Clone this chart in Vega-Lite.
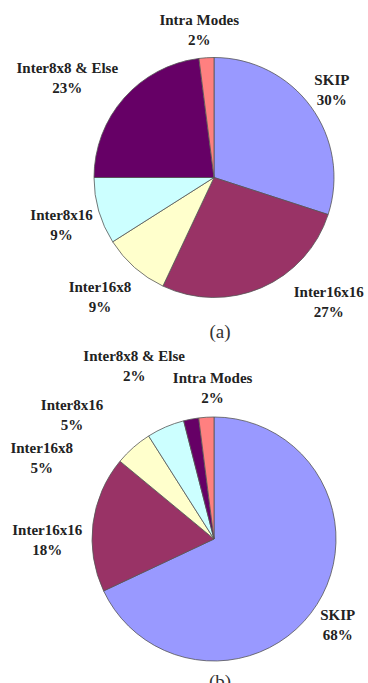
{
  "$schema": "https://vega.github.io/schema/vega-lite/v6.json",
  "autosize": {"type": "pad"},
  "padding": {"left": 10, "top": -4, "right": 0, "bottom": 0},
  "bounds": "flush",
  "spacing": 82,
  "background": "white",
  "config": {
    "view": {"stroke": null},
    "text": {"font": "Liberation Serif", "fontWeight": "bold", "fontSize": 15, "lineBreak": "\n", "lineHeight": 20, "align": "center", "baseline": "middle", "fill": "#222222"},
    "arc": {"stroke": "#555555", "strokeWidth": 0.8}
  },
  "datasets": {
    "a": [
      {"mode": "SKIP", "pct": 30, "idx": 1, "label": "SKIP\n30%"},
      {"mode": "Inter16x16", "pct": 27, "idx": 2, "label": "Inter16x16\n27%"},
      {"mode": "Inter16x8", "pct": 9, "idx": 3, "label": "Inter16x8\n9%"},
      {"mode": "Inter8x16", "pct": 9, "idx": 4, "label": "Inter8x16\n9%"},
      {"mode": "Inter8x8 & Else", "pct": 23, "idx": 5, "label": "Inter8x8 & Else\n23%"},
      {"mode": "Intra Modes", "pct": 2, "idx": 6, "label": "Intra Modes\n2%"}
    ],
    "b": [
      {"mode": "SKIP", "pct": 68, "idx": 1, "label": "SKIP\n68%"},
      {"mode": "Inter16x16", "pct": 18, "idx": 2, "label": "Inter16x16\n18%"},
      {"mode": "Inter16x8", "pct": 5, "idx": 3, "label": "Inter16x8\n5%"},
      {"mode": "Inter8x16", "pct": 5, "idx": 4, "label": "Inter8x16\n5%"},
      {"mode": "Inter8x8 & Else", "pct": 2, "idx": 5, "label": "Inter8x8 & Else\n2%"},
      {"mode": "Intra Modes", "pct": 2, "idx": 6, "label": "Intra Modes\n2%"}
    ]
  },
  "vconcat": [
    {
      "width": 300,
      "height": 291,
      "data": {"name": "a"},
      "title": {"text": "(a)", "orient": "bottom", "offset": -16, "font": "Liberation Serif", "fontSize": 19, "fontWeight": "normal", "color": "#333333", "dx": 6, "baseline": "top"},
      "encoding": {
        "theta": {"field": "pct", "type": "quantitative", "stack": true},
        "order": {"field": "idx", "type": "quantitative"},
        "detail": {"field": "mode", "type": "nominal"}
      },
      "layer": [
        {
          "mark": {"type": "arc", "outerRadius": 120},
          "encoding": {
            "color": {"field": "mode", "type": "nominal", "legend": null,
              "scale": {"domain": ["SKIP", "Inter16x16", "Inter16x8", "Inter8x16", "Inter8x8 & Else", "Intra Modes"],
                        "range": ["#9999FF", "#993366", "#FFFFCC", "#CCFFFF", "#660066", "#FF8080"]}}
          }
        },
        {"mark": {"type": "text", "radius": 153, "thetaOffset": -0.063},
         "encoding": {"text": {"condition": {"test": "datum.mode === 'SKIP'", "field": "label", "type": "nominal"}, "value": ""},
                      "size": {"condition": {"test": "datum.mode === 'SKIP'", "value": 15}, "value": 0}}},
        {"mark": {"type": "text", "radius": 162, "thetaOffset": -0.379},
         "encoding": {"text": {"condition": {"test": "datum.mode === 'Inter16x16'", "field": "label", "type": "nominal"}, "value": ""},
                      "size": {"condition": {"test": "datum.mode === 'Inter16x16'", "value": 15}, "value": 0}}},
        {"mark": {"type": "text", "radius": 158, "thetaOffset": 0.084},
         "encoding": {"text": {"condition": {"test": "datum.mode === 'Inter16x8'", "field": "label", "type": "nominal"}, "value": ""},
                      "size": {"condition": {"test": "datum.mode === 'Inter16x8'", "value": 15}, "value": 0}}},
        {"mark": {"type": "text", "radius": 157, "thetaOffset": 0.04},
         "encoding": {"text": {"condition": {"test": "datum.mode === 'Inter8x16'", "field": "label", "type": "nominal"}, "value": ""},
                      "size": {"condition": {"test": "datum.mode === 'Inter8x16'", "value": 15}, "value": 0}}},
        {"mark": {"type": "text", "radius": 183, "thetaOffset": -0.082},
         "encoding": {"text": {"condition": {"test": "datum.mode === 'Inter8x8 & Else'", "field": "label", "type": "nominal"}, "value": ""},
                      "size": {"condition": {"test": "datum.mode === 'Inter8x8 & Else'", "value": 15}, "value": 0}}},
        {"mark": {"type": "text", "radius": 158, "thetaOffset": -0.031},
         "encoding": {"text": {"condition": {"test": "datum.mode === 'Intra Modes'", "field": "label", "type": "nominal"}, "value": ""},
                      "size": {"condition": {"test": "datum.mode === 'Intra Modes'", "value": 15}, "value": 0}}}
      ]
    },
    {
      "width": 300,
      "height": 268,
      "data": {"name": "b"},
      "title": {"text": "(b)", "orient": "bottom", "offset": 0, "font": "Liberation Serif", "fontSize": 19, "fontWeight": "normal", "color": "#333333", "dx": 6, "baseline": "top"},
      "encoding": {
        "theta": {"field": "pct", "type": "quantitative", "stack": true},
        "order": {"field": "idx", "type": "quantitative"},
        "detail": {"field": "mode", "type": "nominal"}
      },
      "layer": [
        {
          "mark": {"type": "arc", "outerRadius": 122},
          "encoding": {
            "color": {"field": "mode", "type": "nominal", "legend": null,
              "scale": {"domain": ["SKIP", "Inter16x16", "Inter16x8", "Inter8x16", "Inter8x8 & Else", "Intra Modes"],
                        "range": ["#9999FF", "#993366", "#FFFFCC", "#CCFFFF", "#660066", "#FF8080"]}}
          }
        },
        {"mark": {"type": "text", "radius": 145, "thetaOffset": -0.016},
         "encoding": {"text": {"condition": {"test": "datum.mode === 'SKIP'", "field": "label", "type": "nominal"}, "value": ""},
                      "size": {"condition": {"test": "datum.mode === 'SKIP'", "value": 15}, "value": 0}}},
        {"mark": {"type": "text", "radius": 167, "thetaOffset": -0.072},
         "encoding": {"text": {"condition": {"test": "datum.mode === 'Inter16x16'", "field": "label", "type": "nominal"}, "value": ""},
                      "size": {"condition": {"test": "datum.mode === 'Inter16x16'", "value": 15}, "value": 0}}},
        {"mark": {"type": "text", "radius": 195, "thetaOffset": -0.361},
         "encoding": {"text": {"condition": {"test": "datum.mode === 'Inter16x8'", "field": "label", "type": "nominal"}, "value": ""},
                      "size": {"condition": {"test": "datum.mode === 'Inter16x8'", "value": 15}, "value": 0}}},
        {"mark": {"type": "text", "radius": 195, "thetaOffset": -0.407},
         "encoding": {"text": {"condition": {"test": "datum.mode === 'Inter8x16'", "field": "label", "type": "nominal"}, "value": ""},
                      "size": {"condition": {"test": "datum.mode === 'Inter8x16'", "value": 15}, "value": 0}}},
        {"mark": {"type": "text", "radius": 200, "thetaOffset": -0.222},
         "encoding": {"text": {"condition": {"test": "datum.mode === 'Inter8x8 & Else'", "field": "label", "type": "nominal"}, "value": ""},
                      "size": {"condition": {"test": "datum.mode === 'Inter8x8 & Else'", "value": 15}, "value": 0}}},
        {"mark": {"type": "text", "radius": 161, "thetaOffset": 0.054},
         "encoding": {"text": {"condition": {"test": "datum.mode === 'Intra Modes'", "field": "label", "type": "nominal"}, "value": ""},
                      "size": {"condition": {"test": "datum.mode === 'Intra Modes'", "value": 15}, "value": 0}}}
      ]
    }
  ]
}
